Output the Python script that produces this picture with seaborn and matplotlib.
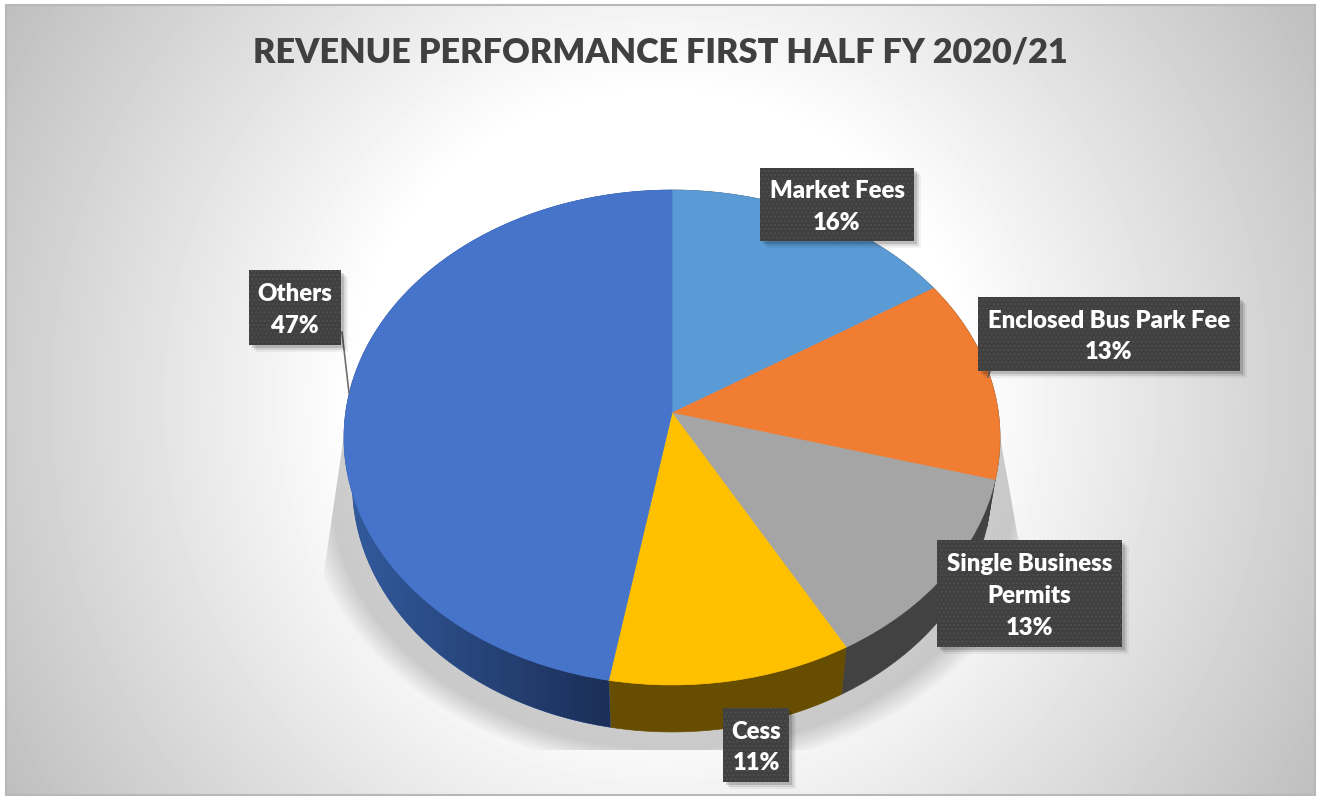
import numpy as np
import seaborn as sns
import matplotlib
matplotlib.use("Agg")
import matplotlib.pyplot as plt
from matplotlib.patches import Polygon, Rectangle
from matplotlib.transforms import Transform

title = "REVENUE PERFORMANCE FIRST HALF FY 2020/21"
categories = ["Market Fees", "Enclosed Bus Park Fee", "Single Business Permits", "Cess", "Others"]
shares = [16, 13.3, 12.6, 10.9, 47.2]
top_colors = ["#5B9BD5", "#F07D31", "#A5A5A5", "#FFC000", "#4674CA"]
side_colors = ["#424242", "#424242", "#424242", "#664D00", "#2F5597"]

W, H = 1323, 796

# label box layout in pixels: left, top, right, bottom
boxes = [(760, 168, 914, 241), (978, 297, 1240, 371), (937, 540, 1122, 647),
         (723, 708, 789, 782), (249, 270, 341, 345)]


class Tilt(Transform):
    """Unit circle seen in perspective, far edge at the top"""
    input_dims = output_dims = 2
    is_separable = False

    def __init__(self, cx, cy, rx, ry, k):
        super().__init__()
        self.p = (cx, cy, rx, ry, k)

    def transform_non_affine(self, xy):
        cx, cy, rx, ry, k = self.p
        xy = np.asarray(xy)
        w = 1 + k * xy[:, 1]
        return np.column_stack([cx + rx * xy[:, 0] / w, cy - ry * xy[:, 1] / w])


top_tilt = Tilt(672, 413, 326.4, 245, 0.099)
bottom_tilt = Tilt(672, 460, 318, 245, 0.099)


def rim_outline(start, end):
    """Band between the top and bottom pie edges for one slice, shares in percent"""
    a = np.radians(np.linspace(start, end, 80) * 3.6)
    circle = np.column_stack([np.sin(a), np.cos(a)])
    return np.vstack([top_tilt.transform_non_affine(circle),
                      bottom_tilt.transform_non_affine(circle)[::-1]])


sns.set_theme(style="white")
plt.rcParams["font.family"] = ["Lato", "DejaVu Sans"]

fig = plt.figure(figsize=(W / 100, H / 100), dpi=100, facecolor="white")
ax = fig.add_axes([0, 0, 1, 1])

# radial background
yy, xx = np.mgrid[5:795, 6:1315]
t = np.hypot(xx - 660, yy - 400) / 765
bg = np.clip(255 - 108 * np.clip(t - 0.4, 0, None), 0, 255) / 255
ax.imshow(bg, cmap="gray", vmin=0, vmax=1, extent=(6, 1315, 795, 5), aspect="auto", zorder=0)
ax.add_patch(Rectangle((6, 5), 1309, 790, fill=False, ec="#b8b8b8", lw=1.5, zorder=1))

# soft floor shadow under the pie
yy, xx = np.mgrid[340:760, 280:1070]
r = np.hypot((xx - 672) / 320, (yy - 484) / 248)
fade = np.clip((1.16 - r) / 0.09, 0, 1)
shade = np.zeros(r.shape + (4,))
shade[..., 3] = 0.19 * fade
im = ax.imshow(shade, extent=(280, 1070, 760, 340), aspect="auto", zorder=1)
im.set_clip_path(Polygon([(352, 380), (988, 370), (1056, 750), (298, 750)], transform=ax.transData))

# pie side as one band per slice
edges = np.cumsum([0] + shares)
for i, color in enumerate(side_colors):
    band = Polygon(rim_outline(edges[i], edges[i + 1]), fc=color, ec=color, lw=0.5, zorder=2)
    ax.add_patch(band)

xg = np.linspace(0, 1, 64)
c0, c1 = np.array([0x32, 0x5A, 0x9C]) / 255, np.array([0x1B, 0x2E, 0x57]) / 255
grad = (c0[None, :] * (1 - xg[:, None]) + c1[None, :] * xg[:, None])[None, :, :]
im2 = ax.imshow(grad, extent=(352, 612, 740, 440), aspect="auto", zorder=2.5)
im2.set_clip_path(band)

top, _ = ax.pie(shares, colors=sns.color_palette(top_colors), startangle=90, counterclock=False)
for w in top:
    w.set_transform(top_tilt + ax.transData)
    w.set_zorder(3)
    w.set_edgecolor(w.get_facecolor())
    w.set_linewidth(0.5)

ax.plot([342, 349], [332, 393], color="#6e6e6e", lw=1.2, zorder=4)
ax.plot([990, 988], [371, 377], color="#6e6e6e", lw=1.2, zorder=4)

# data label boxes
plt.rcParams["hatch.linewidth"] = 1.0
for name, share, (x0, y0, x1, y1) in zip(categories, shares, boxes):
    for off, a in [(7, 0.05), (5, 0.09), (3, 0.14)]:
        ax.add_patch(Rectangle((x0 + off, y0 + off), x1 - x0, y1 - y0, fc="black", ec="none", alpha=a, zorder=5))
    ax.add_patch(Rectangle((x0, y0), x1 - x0, y1 - y0, fc="#404040", ec="#4e4e4e", hatch="....", lw=0, zorder=6))
    label = name.replace("Single Business ", "Single Business\n") + f"\n{share:.0f}%"
    ax.text((x0 + x1) / 2, (y0 + y1) / 2 + 2.5, label, color="white", fontsize=17.2, fontweight="heavy",
            ha="center", va="center", linespacing=1.55, zorder=7)

ax.text(660, 53, title, color="#404040", fontsize=24.7, fontweight="heavy", ha="center", va="center", zorder=7)

ax.set_aspect("auto")
ax.set_xlim(0, W)
ax.set_ylim(H, 0)
ax.axis("off")
fig.savefig("out.png", dpi=100)
